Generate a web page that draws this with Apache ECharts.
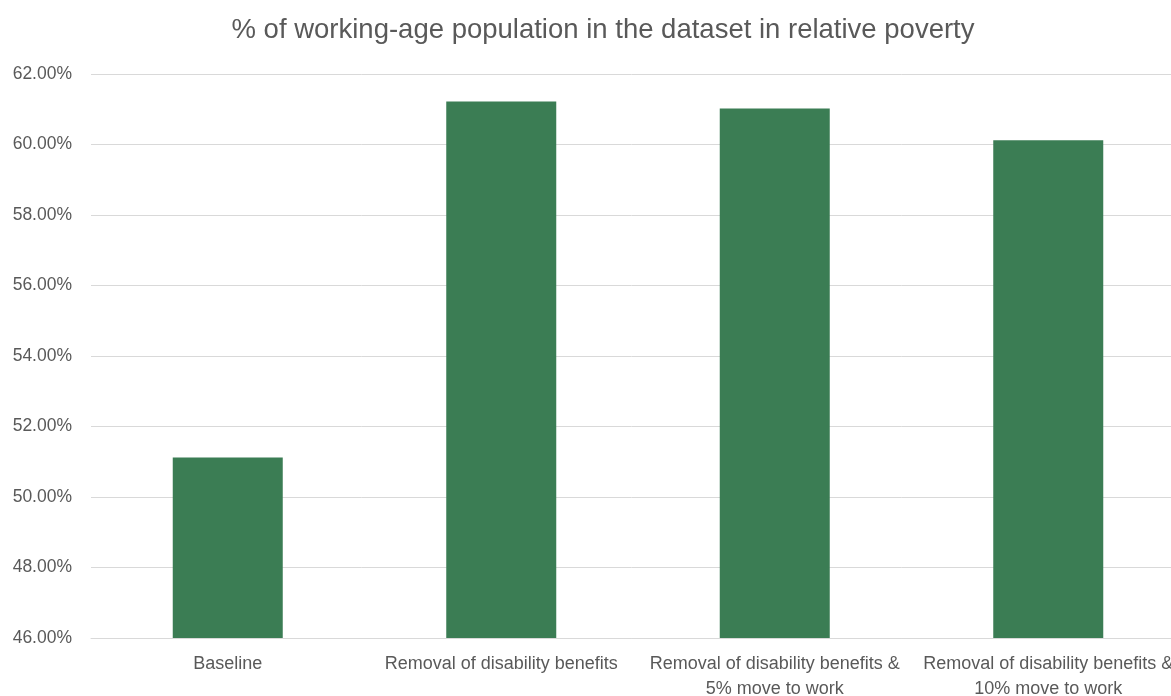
<!DOCTYPE html>
<html>
<head>
<meta charset="utf-8">
<script src="https://cdn.jsdelivr.net/npm/echarts@6/dist/echarts.min.js"></script>
<style>
  html, body { margin: 0; padding: 0; background: #fff; }
  #chart { width: 1171px; height: 696px; }
</style>
</head>
<body>
<div id="chart"></div>
<script>
// Share of working-age population in relative poverty, by scenario
const categories = [
  'Baseline',
  'Removal of disability benefits',
  'Removal of disability benefits &\n5% move to work',
  'Removal of disability benefits &\n10% move to work'
];
const povertyRate = [51.12, 61.22, 61.02, 60.12];
const yTicks = { min: 46, max: 62, interval: 2 };

const textColor = '#595959';
const gridColor = '#D9D9D9';
const fontFamily = '"Liberation Sans", Arial, sans-serif';

const chart = echarts.init(document.getElementById('chart'), null, { renderer: 'canvas' });
chart.setOption({
  animation: false,
  backgroundColor: '#ffffff',
  title: {
    text: '% of working-age population in the dataset in relative poverty',
    left: 598,
    top: 11,
    textAlign: 'center',
    textStyle: { color: textColor, fontSize: 27.5, fontWeight: 'normal', fontFamily: fontFamily }
  },
  grid: {
    left: 91, top: 74, bottom: 58, width: 1094,
    containLabel: false, outerBoundsMode: 'none'
  },
  xAxis: {
    type: 'category',
    data: categories,
    axisLine: { show: true, lineStyle: { color: gridColor, width: 1 } },
    axisTick: { show: false },
    axisLabel: {
      color: textColor, fontSize: 18, fontFamily: fontFamily,
      margin: 14, lineHeight: 25, interval: 0
    }
  },
  yAxis: {
    type: 'value',
    min: yTicks.min,
    max: yTicks.max,
    interval: yTicks.interval,
    axisLine: { show: false },
    axisTick: { show: false },
    splitLine: { lineStyle: { color: gridColor, width: 1 } },
    axisLabel: {
      color: textColor, fontSize: 17.5, fontFamily: fontFamily, margin: 19,
      formatter: v => v.toFixed(2) + '%'
    }
  },
  series: [{
    type: 'bar',
    data: povertyRate,
    barWidth: 110,
    itemStyle: { color: '#3B7D54' }
  }]
});
</script>
</body>
</html>
